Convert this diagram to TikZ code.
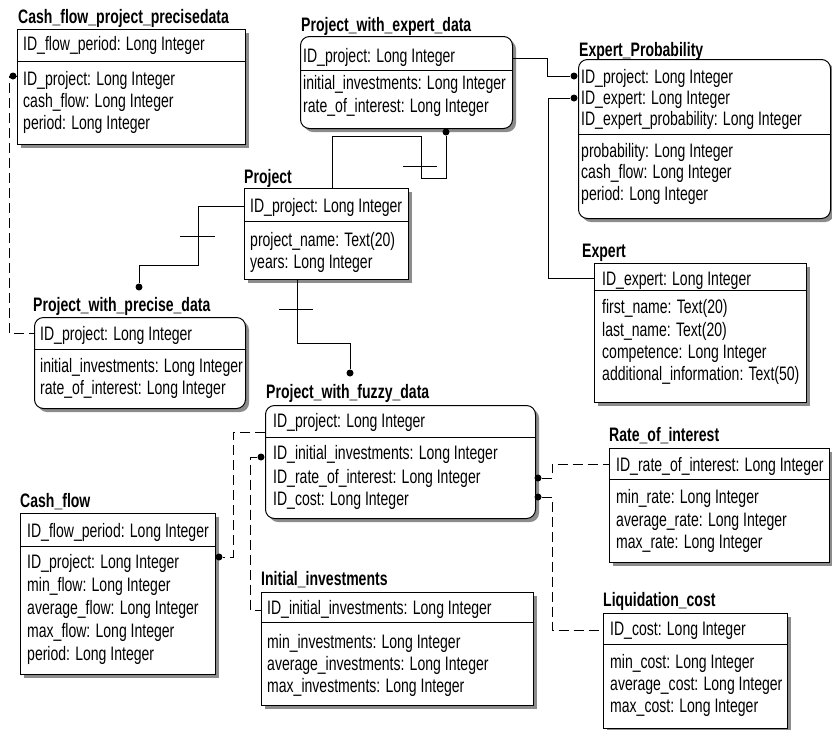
\documentclass[tikz,border=0pt]{standalone}
\usepackage{fontspec}
\setmainfont{Liberation Sans}[FakeStretch=0.72]
\usetikzlibrary{shadows}
\begin{document}
\begin{tikzpicture}[x=1pt,y=-1pt,
  ent/.style={draw, fill=white, line width=1pt, inner sep=0pt, anchor=north west,
    drop shadow={shadow xshift=3.5pt, shadow yshift=-3.5pt, fill=black!45, opacity=1}},
  rent/.style={ent, rounded corners=9pt},
  ttl/.style={anchor=base west, inner sep=0pt, font=\fontsize{19.5}{23}\selectfont\bfseries},
  fld/.style={anchor=base west, inner sep=0pt, font=\fontsize{19.5}{23}\selectfont},
  sepl/.style={line width=1pt},
  rel/.style={line width=1pt},
  drel/.style={rel, dash pattern=on 10pt off 5pt},
  dot/.style={circle, fill=black, inner sep=0pt, minimum size=7pt}]
\fill[white] (0,0) rectangle (832,729);
\useasboundingbox (0,0) rectangle (832,729);

% ---------- Cash_flow_project_precisedata
\node[ttl] (b1t) at (18,23) {Cash\_flow\_project\_precisedata};
\node[ent, minimum width=228pt, minimum height=115pt] (b1) at (17,29) {};
\draw[sepl] (b1.west |- 0,61) -- (b1.east |- 0,61);
\node[fld] (b1a) at (23,50) {ID\_flow\_period: Long Integer};
\node[fld] (b1b) at (23,85) {ID\_project: Long Integer};
\node[fld] (b1c) at (23,107) {cash\_flow: Long Integer};
\node[fld] (b1d) at (23,129) {period: Long Integer};

% ---------- Project_with_expert_data
\node[ttl] (b2t) at (301,31) {Project\_with\_expert\_data};
\node[rent, minimum width=212pt, minimum height=92pt] (b2) at (300,36) {};
\draw[sepl] (b2.west |- 0,70) -- (b2.east |- 0,70);
\node[fld] (b2a) at (303,62) {ID\_project: Long Integer};
\node[fld] (b2b) at (303,89) {initial\_investments: Long Integer};
\node[fld] (b2c) at (303,112) {rate\_of\_interest: Long Integer};

% ---------- Expert_Probability
\node[ttl] (b3t) at (579,56) {Expert\_Probability};
\node[rent, minimum width=252pt, minimum height=159pt] (b3) at (578,59) {};
\draw[sepl] (b3.west |- 0,134) -- (b3.east |- 0,134);
\node[fld] (b3a) at (581,83) {ID\_project: Long Integer};
\node[fld] (b3b) at (581,104) {ID\_expert: Long Integer};
\node[fld] (b3c) at (581,125) {ID\_expert\_probability: Long Integer};
\node[fld] (b3d) at (581,157) {probability: Long Integer};
\node[fld] (b3e) at (581,178) {cash\_flow: Long Integer};
\node[fld] (b3f) at (581,200) {period: Long Integer};

% ---------- Project
\node[ttl] (b4t) at (244,183) {Project};
\node[ent, minimum width=164pt, minimum height=91pt] (b4) at (244,188) {};
\draw[sepl] (b4.west |- 0,221) -- (b4.east |- 0,221);
\node[fld] (b4a) at (250,212) {ID\_project: Long Integer};
\node[fld] (b4b) at (250,246) {project\_name: Text(20)};
\node[fld] (b4c) at (250,268) {years: Long Integer};

% ---------- Project_with_precise_data
\node[ttl] (b5t) at (33,311) {Project\_with\_precise\_data};
\node[rent, minimum width=211pt, minimum height=91pt] (b5) at (34,317) {};
\draw[sepl] (b5.west |- 0,349) -- (b5.east |- 0,349);
\node[fld] (b5a) at (40,340) {ID\_project: Long Integer};
\node[fld] (b5b) at (40,372) {initial\_investments: Long Integer};
\node[fld] (b5c) at (40,394) {rate\_of\_interest: Long Integer};

% ---------- Expert
\node[ttl] (b6t) at (582,257) {Expert};
\node[ent, minimum width=212pt, minimum height=139pt] (b6) at (594,263) {};
\draw[sepl] (b6.west |- 0,290) -- (b6.east |- 0,290);
\node[fld] (b6a) at (602,285) {ID\_expert: Long Integer};
\node[fld] (b6b) at (602,313) {first\_name: Text(20)};
\node[fld] (b6c) at (602,336) {last\_name: Text(20)};
\node[fld] (b6d) at (602,358) {competence: Long Integer};
\node[fld] (b6e) at (602,380) {additional\_information: Text(50)};

% ---------- Project_with_fuzzy_data
\node[ttl] (b7t) at (266,398) {Project\_with\_fuzzy\_data};
\node[rent, minimum width=270pt, minimum height=113pt] (b7) at (265,405) {};
\draw[sepl] (b7.west |- 0,437) -- (b7.east |- 0,437);
\node[fld] (b7a) at (273,427) {ID\_project: Long Integer};
\node[fld] (b7b) at (273,459) {ID\_initial\_investments: Long Integer};
\node[fld] (b7c) at (273,483) {ID\_rate\_of\_interest: Long Integer};
\node[fld] (b7d) at (273,505) {ID\_cost: Long Integer};

% ---------- Rate_of_interest
\node[ttl] (b8t) at (609,441) {Rate\_of\_interest};
\node[ent, minimum width=220pt, minimum height=114pt] (b8) at (609,448) {};
\draw[sepl] (b8.west |- 0,479) -- (b8.east |- 0,479);
\node[fld] (b8a) at (616,471) {ID\_rate\_of\_interest: Long Integer};
\node[fld] (b8b) at (616,503) {min\_rate: Long Integer};
\node[fld] (b8c) at (616,526) {average\_rate: Long Integer};
\node[fld] (b8d) at (616,548) {max\_rate: Long Integer};

% ---------- Liquidation_cost
\node[ttl] (b9t) at (603,606) {Liquidation\_cost};
\node[ent, minimum width=184pt, minimum height=115pt] (b9) at (603,613) {};
\draw[sepl] (b9.west |- 0,644) -- (b9.east |- 0,644);
\node[fld] (b9a) at (610,635) {ID\_cost: Long Integer};
\node[fld] (b9b) at (610,668) {min\_cost: Long Integer};
\node[fld] (b9c) at (610,690) {average\_cost: Long Integer};
\node[fld] (b9d) at (610,712) {max\_cost: Long Integer};

% ---------- Cash_flow
\node[ttl] (b10t) at (20,507) {Cash\_flow};
\node[ent, minimum width=195pt, minimum height=161pt] (b10) at (20,513) {};
\draw[sepl] (b10.west |- 0,546) -- (b10.east |- 0,546);
\node[fld] (b10a) at (27,537) {ID\_flow\_period: Long Integer};
\node[fld] (b10b) at (27,568) {ID\_project: Long Integer};
\node[fld] (b10c) at (27,591) {min\_flow: Long Integer};
\node[fld] (b10d) at (27,614) {average\_flow: Long Integer};
\node[fld] (b10e) at (27,637) {max\_flow: Long Integer};
\node[fld] (b10f) at (27,660) {period: Long Integer};

% ---------- Initial_investments
\node[ttl] (b11t) at (261,585) {Initial\_investments};
\node[ent, minimum width=272pt, minimum height=113pt] (b11) at (261,592) {};
\draw[sepl] (b11.west |- 0,622) -- (b11.east |- 0,622);
\node[fld] (b11a) at (267,614) {ID\_initial\_investments: Long Integer};
\node[fld] (b11b) at (267,648) {min\_investments: Long Integer};
\node[fld] (b11c) at (267,670) {average\_investments: Long Integer};
\node[fld] (b11d) at (267,692) {max\_investments: Long Integer};

% ---------- relationship dots
\node[dot] (d1) at (13,76) {};
\node[dot] (d2) at (574,76) {};
\node[dot] (d3) at (574,98) {};
\node[dot] (d4) at (446,132) {};
\node[dot] (d5) at (139,287) {};
\node[dot] (d6) at (350,373) {};
\node[dot] (d7) at (219,557) {};
\node[dot] (d8) at (261,457) {};
\node[dot] (d9) at (538,478) {};
\node[dot] (d10) at (538,497) {};

% ---------- connectors
\draw[drel] (b1.west |- d1) -- (9,76) |- (b5.west |- 0,333);
\draw[rel] (b2.east |- 0,58) -| (547,76) -- (d2);
\draw[rel] (d3) -- (548,98) |- (b6.west |- 0,278);
\draw[rel] (b4.north -| 332,0) |- (421,136) |- (446,178) -- (d4);
\draw[rel] (403,166) -- (437,166);
\draw[rel] (b4.west |- 0,206) -| (198,265) -| (d5);
\draw[rel] (180,236) -- (215,236);
\draw[rel] (b4.south -| 297,0) |- (350,343) -- (d6);
\draw[rel] (279,309) -- (313,309);
\draw[drel] (b7.west |- 0,432) -| (233,557) -- (d7);
\draw[drel] (d8) -- (250,457) |- (b11.west |- 0,610);
\draw[drel] (d9) -- (552,478) |- (b8.west |- 0,464);
\draw[drel] (d10) -- (552,497) |- (b9.west |- 0,630);
\end{tikzpicture}
\end{document}
